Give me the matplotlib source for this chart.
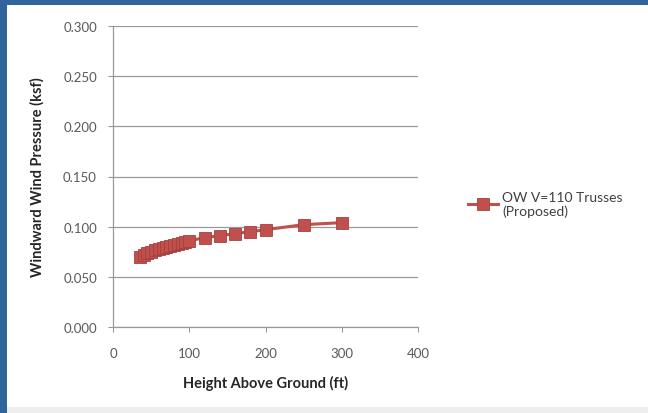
import matplotlib
matplotlib.use("Agg")
import matplotlib.pyplot as plt
from matplotlib.patches import Rectangle

# Windward wind pressure profile
heights_ft = [35, 40, 45, 50, 55, 60, 65, 70, 75, 80, 85, 90, 95, 100,
              120, 140, 160, 180, 200, 250, 300]
pressure_ksf = [0.070, 0.072, 0.074, 0.075, 0.077, 0.078, 0.079, 0.080,
                0.081, 0.082, 0.083, 0.084, 0.085, 0.086,
                0.089, 0.091, 0.093, 0.095, 0.097, 0.102, 0.104]
series_label = "OW V=110 Trusses\n(Proposed)"
x_ticks = [0, 100, 200, 300, 400]
y_ticks = [0.000, 0.050, 0.100, 0.150, 0.200, 0.250, 0.300]

plt.rcParams['font.family'] = ['Lato', 'DejaVu Sans']

W, H = 648, 414
fig = plt.figure(figsize=(W / 100, H / 100), dpi=100)
fig.patch.set_facecolor("white")

# frame: blue band on top and left, light strip at the bottom
blue = "#30649B"
fig.patches.append(Rectangle((0, 0), 1, 6 / H, transform=fig.transFigure,
                             facecolor="#EEEEEE", edgecolor="none", zorder=-5))
fig.patches.append(Rectangle((0, 1 - 6 / H), 1, 6 / H, transform=fig.transFigure,
                             facecolor=blue, edgecolor="none", zorder=-4))
fig.patches.append(Rectangle((0, 0), 7 / W, 1, transform=fig.transFigure,
                             facecolor=blue, edgecolor="none", zorder=-4))

ax = fig.add_axes([113 / W, 1 - 328 / H, 305 / W, 301 / H])
ax.set_xlim(0, 400)
ax.set_ylim(0, 0.300)
ax.set_xticks(x_ticks)
ax.set_yticks(y_ticks)
ax.set_yticklabels([f"{v:.3f}" for v in y_ticks])

grid_c = "#999999"
ax.grid(axis="y", color=grid_c, linewidth=0.9)
ax.set_axisbelow(True)
for s in ["top", "right"]:
    ax.spines[s].set_visible(False)
for s in ["left", "bottom"]:
    ax.spines[s].set_color(grid_c)
    ax.spines[s].set_linewidth(0.9)
ax.tick_params(axis="both", colors=grid_c, length=3.6, width=0.8,
               labelcolor="#595959", labelsize=9.5)
ax.tick_params(axis="y", pad=8)
ax.tick_params(axis="x", pad=11)

red = "#C0504D"
ax.plot(heights_ft, pressure_ksf, color=red, linewidth=2.2, marker="s",
        markersize=8, markerfacecolor=red, markeredgecolor="#A5403D",
        markeredgewidth=0.6, label=series_label, clip_on=False)

ax.set_xlabel("Height Above Ground (ft)", fontsize=10.5, fontweight="bold",
              color="#262626", labelpad=11)
ax.set_ylabel("Windward Wind Pressure (ksf)", fontsize=10.5, fontweight="bold",
              color="#262626", labelpad=13)

fig.legend(loc="center left", bbox_to_anchor=(455 / W, 1 - 205 / H),
           frameon=False, fontsize=10, handlelength=2.2, handletextpad=0.3,
           labelcolor="#404040")

fig.savefig("out.png", dpi=100)
